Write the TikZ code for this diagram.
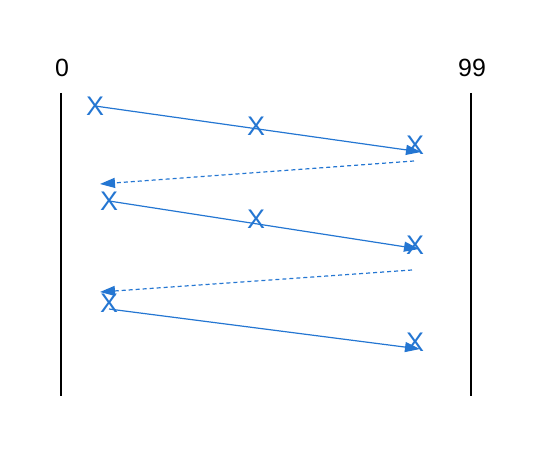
\documentclass[tikz,border=0pt]{standalone}
\usepackage{fontspec}
\setmainfont{Liberation Sans}
\usetikzlibrary{arrows.meta}
\definecolor{xblue}{RGB}{36,118,210}
\begin{document}
\begin{tikzpicture}[x=1bp,y=-1bp,
  xmark/.style={text=xblue,font=\fontsize{27}{27}\selectfont,inner sep=0pt},
  lbl/.style={text=black,font=\fontsize{25}{25}\selectfont,inner sep=0pt},
  axis/.style={line width=1.2bp,black},
  msg/.style={xblue,line width=1.2bp,-{Triangle[length=15bp,width=10bp]}},
  back/.style={msg,dash pattern=on 4bp off 3bp}]
\useasboundingbox (0,0) rectangle (538,454);
\node[lbl] (l0) at (62,68) {0};
\node[lbl] (l99) at (472,68) {99};
\coordinate (t0) at (61,93); \coordinate (b0) at (61,396);
\coordinate (t1) at (471,93); \coordinate (b1) at (471,396);
\draw[axis] (t0) -- (b0);
\draw[axis] (t1) -- (b1);
\node[xmark] (x1) at (95,106) {X};
\node[xmark] (x2) at (256,126) {X};
\node[xmark] (x3) at (415,145) {X};
\node[xmark] (x4) at (109,201) {X};
\node[xmark] (x5) at (256,219) {X};
\node[xmark] (x6) at (415,245) {X};
\node[xmark] (x7) at (109,303) {X};
\node[xmark] (x8) at (415,342) {X};
\coordinate (e1) at (421,152);
\coordinate (s2) at (414,161); \coordinate (e2) at (100,184);
\coordinate (e3) at (419,249);
\coordinate (s4) at (412,270); \coordinate (e4) at (100,292);
\coordinate (e5) at (420,349);
\draw[msg] (x1.center) -- (e1);
\draw[back] (s2) -- (e2);
\draw[msg] (x4.center) -- (e3);
\draw[back] (s4) -- (e4);
\draw[msg] ([yshift=-6bp]x7.center) -- (e5);
\end{tikzpicture}
\end{document}
